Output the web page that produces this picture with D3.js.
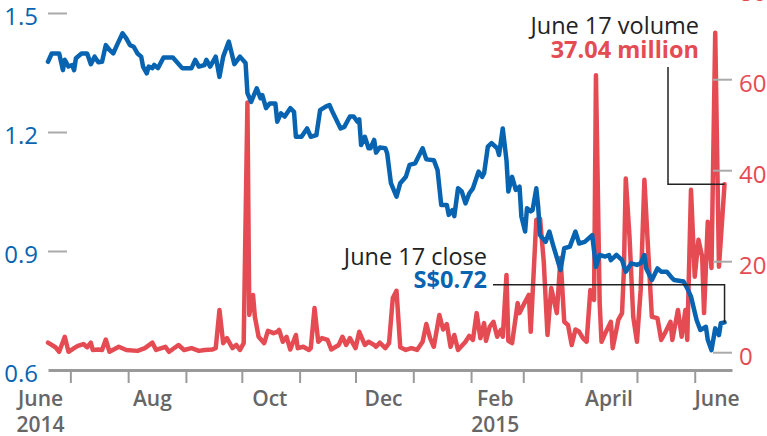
<!DOCTYPE html>
<html><head><meta charset="utf-8">
<script src="https://cdn.jsdelivr.net/npm/d3@7"></script>
<style>
body{margin:0;background:#fff}
svg{display:block;font-family:"Open Sans",sans-serif}
</style>
</head><body>
<svg id="chart" width="767" height="436"></svg>
<script>
// ---- Data ----
const priceDates = ["2014-06-19","2014-06-21","2014-06-25","2014-06-27","2014-06-28","2014-06-30","2014-07-02","2014-07-03","2014-07-04","2014-07-07","2014-07-10","2014-07-12","2014-07-14","2014-07-16","2014-07-18","2014-07-20","2014-07-22","2014-07-24","2014-07-26","2014-07-29","2014-07-31","2014-08-02","2014-08-04","2014-08-06","2014-08-08","2014-08-09","2014-08-11","2014-08-12","2014-08-14","2014-08-15","2014-08-17","2014-08-20","2014-08-25","2014-08-30","2014-09-04","2014-09-06","2014-09-08","2014-09-11","2014-09-12","2014-09-14","2014-09-17","2014-09-19","2014-09-21","2014-09-24","2014-09-26","2014-09-27","2014-09-30","2014-10-03","2014-10-04","2014-10-06","2014-10-09","2014-10-11","2014-10-12","2014-10-14","2014-10-16","2014-10-19","2014-10-20","2014-10-22","2014-10-24","2014-10-27","2014-10-29","2014-10-30","2014-11-02","2014-11-05","2014-11-07","2014-11-10","2014-11-12","2014-11-15","2014-11-17","2014-11-19","2014-11-23","2014-11-25","2014-11-28","2014-11-30","2014-12-02","2014-12-03","2014-12-04","2014-12-06","2014-12-08","2014-12-09","2014-12-11","2014-12-12","2014-12-14","2014-12-17","2014-12-18","2014-12-20","2014-12-23","2014-12-25","2014-12-28","2014-12-30","2015-01-02","2015-01-06","2015-01-08","2015-01-12","2015-01-14","2015-01-16","2015-01-19","2015-01-20","2015-01-22","2015-01-23","2015-01-25","2015-01-27","2015-01-29","2015-01-31","2015-02-02","2015-02-05","2015-02-07","2015-02-08","2015-02-10","2015-02-12","2015-02-15","2015-02-16","2015-02-18","2015-02-20","2015-02-21","2015-02-23","2015-02-25","2015-02-27","2015-02-28","2015-03-02","2015-03-03","2015-03-05","2015-03-06","2015-03-08","2015-03-09","2015-03-10","2015-03-13","2015-03-15","2015-03-17","2015-03-21","2015-03-23","2015-03-26","2015-03-29","2015-03-31","2015-04-03","2015-04-07","2015-04-09","2015-04-11","2015-04-14","2015-04-16","2015-04-17","2015-04-20","2015-04-23","2015-04-25","2015-04-28","2015-05-01","2015-05-03","2015-05-05","2015-05-06","2015-05-09","2015-05-12","2015-05-14","2015-05-17","2015-05-20","2015-05-21","2015-05-26","2015-05-28","2015-05-30","2015-06-02","2015-06-04","2015-06-07","2015-06-08","2015-06-10","2015-06-12","2015-06-14","2015-06-15","2015-06-17"];
const priceValues = [1.377,1.398,1.398,1.356,1.382,1.365,1.369,1.356,1.386,1.398,1.398,1.371,1.390,1.376,1.377,1.419,1.407,1.398,1.419,1.449,1.436,1.419,1.415,1.398,1.390,1.365,1.348,1.365,1.361,1.369,1.361,1.388,1.388,1.361,1.361,1.382,1.365,1.369,1.382,1.365,1.390,1.339,1.390,1.428,1.390,1.371,1.390,1.374,1.298,1.276,1.310,1.285,1.293,1.260,1.272,1.272,1.226,1.247,1.239,1.260,1.251,1.188,1.188,1.209,1.188,1.192,1.255,1.264,1.268,1.247,1.209,1.213,1.239,1.239,1.226,1.232,1.167,1.188,1.159,1.159,1.180,1.148,1.161,1.159,1.146,1.071,1.037,1.071,1.087,1.117,1.121,1.159,1.131,1.129,1.104,1.016,1.016,0.991,1.003,0.988,1.058,1.050,1.020,1.045,1.058,1.100,1.087,1.096,1.163,1.172,1.159,1.142,1.209,1.129,1.050,1.087,1.054,1.062,0.987,0.949,1.008,1.000,1.003,1.058,1.012,0.940,0.923,0.949,0.915,0.852,0.907,0.911,0.949,0.919,0.923,0.940,0.860,0.890,0.886,0.890,0.877,0.890,0.877,0.848,0.869,0.865,0.869,0.890,0.856,0.827,0.856,0.848,0.848,0.831,0.827,0.823,0.806,0.785,0.726,0.701,0.709,0.676,0.650,0.705,0.688,0.718,0.720];

const volumeDates = ["2014-06-19","2014-06-23","2014-06-25","2014-06-28","2014-06-30","2014-07-03","2014-07-05","2014-07-08","2014-07-10","2014-07-12","2014-07-13","2014-07-16","2014-07-18","2014-07-20","2014-07-22","2014-07-27","2014-07-31","2014-08-06","2014-08-10","2014-08-14","2014-08-16","2014-08-21","2014-08-23","2014-08-28","2014-08-31","2014-09-04","2014-09-08","2014-09-11","2014-09-15","2014-09-17","2014-09-19","2014-09-21","2014-09-23","2014-09-26","2014-09-28","2014-09-30","2014-10-02","2014-10-04","2014-10-05","2014-10-07","2014-10-08","2014-10-10","2014-10-13","2014-10-15","2014-10-18","2014-10-20","2014-10-21","2014-10-23","2014-10-25","2014-10-27","2014-10-30","2014-10-31","2014-11-03","2014-11-06","2014-11-07","2014-11-09","2014-11-11","2014-11-13","2014-11-16","2014-11-18","2014-11-22","2014-11-24","2014-11-26","2014-11-28","2014-12-01","2014-12-03","2014-12-06","2014-12-08","2014-12-11","2014-12-12","2014-12-14","2014-12-17","2014-12-19","2014-12-21","2014-12-23","2014-12-25","2014-12-28","2014-12-31","2015-01-03","2015-01-06","2015-01-08","2015-01-10","2015-01-12","2015-01-15","2015-01-17","2015-01-19","2015-01-21","2015-01-23","2015-01-25","2015-01-29","2015-01-31","2015-02-02","2015-02-04","2015-02-06","2015-02-08","2015-02-09","2015-02-11","2015-02-13","2015-02-15","2015-02-17","2015-02-18","2015-02-20","2015-02-21","2015-02-23","2015-02-26","2015-02-27","2015-03-02","2015-03-04","2015-03-05","2015-03-08","2015-03-10","2015-03-12","2015-03-14","2015-03-16","2015-03-19","2015-03-21","2015-03-23","2015-03-25","2015-03-27","2015-03-29","2015-03-31","2015-04-02","2015-04-04","2015-04-06","2015-04-08","2015-04-09","2015-04-11","2015-04-12","2015-04-14","2015-04-17","2015-04-18","2015-04-21","2015-04-23","2015-04-24","2015-04-25","2015-04-27","2015-04-29","2015-05-01","2015-05-03","2015-05-05","2015-05-07","2015-05-09","2015-05-12","2015-05-14","2015-05-16","2015-05-19","2015-05-20","2015-05-23","2015-05-25","2015-05-27","2015-05-28","2015-05-30","2015-06-01","2015-06-03","2015-06-05","2015-06-06","2015-06-08","2015-06-10","2015-06-12","2015-06-14","2015-06-17"];
const volumeValues = [2.2,1.2,0.2,3.5,0.2,1.0,1.5,1.9,1.2,2.2,0.6,0.7,0.6,2.9,0.2,1.3,0.6,0.4,1.0,2.2,0.6,1.3,0.2,1.7,0.6,1.0,0.4,0.6,0.7,1.0,9.4,2.1,3.2,1.0,1.7,0.6,2.1,55.0,8.3,12.7,7.9,3.5,2.1,4.8,4.3,4.6,5.0,2.4,3.5,0.7,3.9,1.0,1.3,0.6,1.0,9.8,2.4,3.2,2.8,0.7,1.7,3.5,1.7,3.2,1.0,4.6,1.7,2.4,1.7,1.3,2.2,1.0,2.1,12.0,13.6,1.2,0.6,1.0,0.6,2.4,6.3,3.2,1.3,8.3,5.1,6.3,1.3,3.9,0.6,2.4,3.7,2.8,8.7,3.2,6.5,2.6,5.7,6.8,3.5,5.0,3.5,17.1,2.6,2.1,10.9,8.7,11.2,12.7,4.6,29.2,29.5,20.0,3.9,14.2,8.7,20.8,6.8,6.1,1.7,5.1,4.6,3.2,2.4,13.8,11.6,61.0,10.9,2.4,4.3,6.8,1.0,7.2,8.7,18.2,38.3,25.5,7.9,2.4,13.8,38.0,22.6,7.9,7.6,2.8,4.3,6.8,2.8,9.4,3.5,9.4,2.8,35.8,16.7,24.8,21.1,8.7,28.8,18.6,70.3,18.9,37.04];

const priceTicks = [0.6, 0.9, 1.2, 1.5];
const priceTickLabels = ["0.6", "0.9", "1.2", "1.5"];
const volumeTicks = [0, 20, 40, 60, 80];
const monthTicks = ["2014-07-01","2014-08-01","2014-09-01","2014-10-01","2014-11-01","2014-12-01","2015-01-01","2015-02-01","2015-03-01","2015-04-01","2015-05-01","2015-06-01"];
const monthLabels = ["June","Aug","Oct","Dec","Feb","April","June"];
const monthLabelDates = ["2014-06-15","2014-08-14","2014-10-16","2014-12-16","2015-02-14","2015-04-16","2015-06-13"];
const yearLabels = ["2014","2015"];
const yearLabelDates = ["2014-06-15","2015-02-14"];

const closeLabel = ["June 17 close", "S$0.72"];
const volumeLabel = ["June 17 volume", "37.04 million"];

// ---- Drawing ----
const parse = d3.timeParse("%Y-%m-%d");
const BLUE = "#0864b1", RED = "#e54b53", GRAY = "#9a9a9a";

const price = priceDates.map((d, i) => ({date: parse(d), value: priceValues[i]}));
const volume = volumeDates.map((d, i) => ({date: parse(d), value: volumeValues[i]}));

const svg = d3.select("#chart");

const x = d3.scaleTime()
  .domain([parse("2014-06-19"), parse("2015-06-21")])
  .range([48, 732]);
const yP = d3.scaleLinear().domain([0.6, 1.5]).range([370, 13]);
const yV = d3.scaleLinear().domain([0, 80]).range([352.7, -11.3]);

// Bottom axis
const xAxis = d3.axisBottom(x)
  .tickValues(monthTicks.map(parse))
  .tickSize(13).tickSizeOuter(0)
  .tickFormat("");
const gx = svg.append("g").attr("transform", "translate(0,370)").call(xAxis);
gx.select(".domain").attr("stroke", GRAY).attr("stroke-width", 3);
gx.selectAll(".tick line").attr("stroke", GRAY).attr("stroke-width", 2);

svg.append("g").selectAll("text.month").data(monthLabels).join("text")
  .attr("x", (d, i) => x(parse(monthLabelDates[i])))
  .attr("y", 406)
  .attr("text-anchor", "middle")
  .attr("font-size", 21).attr("font-weight", 600).attr("fill", "#666")
  .text(d => d);
svg.append("g").selectAll("text.year").data(yearLabels).join("text")
  .attr("x", (d, i) => x(parse(yearLabelDates[i])))
  .attr("y", 432)
  .attr("text-anchor", "middle")
  .attr("font-size", 21).attr("font-weight", 600).attr("fill", "#666")
  .text(d => d);

// Left axis (price)
const yAxisL = d3.axisLeft(yP)
  .tickValues(priceTicks.slice(1))
  .tickSize(0).tickFormat("");
const gl = svg.append("g").call(yAxisL);
gl.select(".domain").remove();
gl.selectAll(".tick").append("line")
  .attr("x1", 48).attr("x2", 67)
  .attr("stroke", "#aaa").attr("stroke-width", 2);
svg.append("g").selectAll("text").data(priceTicks).join("text")
  .attr("x", 38).attr("y", d => yP(d) + 12)
  .attr("text-anchor", "end")
  .attr("font-size", 24).attr("fill", BLUE)
  .text((d, i) => priceTickLabels[i]);

// Volume line
const lineV = d3.line().x(d => x(d.date)).y(d => yV(d.value));
svg.append("path").datum(volume)
  .attr("d", lineV)
  .attr("fill", "none").attr("stroke", RED)
  .attr("stroke-width", 4.5).attr("stroke-linejoin", "round").attr("stroke-linecap", "round");

// Price line
const lineP = d3.line().x(d => x(d.date)).y(d => yP(d.value));
svg.append("path").datum(price)
  .attr("d", lineP)
  .attr("fill", "none").attr("stroke", BLUE)
  .attr("stroke-width", 4.5).attr("stroke-linejoin", "round").attr("stroke-linecap", "round");

// Right axis (volume) ticks drawn over lines
svg.append("g").selectAll("line").data(volumeTicks).join("line")
  .attr("x1", 713).attr("x2", 732)
  .attr("y1", d => yV(d)).attr("y2", d => yV(d))
  .attr("stroke", "#aaa").attr("stroke-width", 2);
svg.append("g").selectAll("text").data(volumeTicks).join("text")
  .attr("x", 739).attr("y", d => yV(d) + 12)
  .attr("font-size", 24).attr("fill", RED)
  .text(d => d);

// Annotations
const last = price[price.length - 1];
const lastV = volume[volume.length - 1];
svg.append("path")
  .attr("d", `M493,${yP(0.72) - 37.7}H${x(last.date)}V${yP(last.value)}`)
  .attr("fill", "none").attr("stroke", "#222").attr("stroke-width", 1.5);
svg.append("path")
  .attr("d", `M668,67V${yV(lastV.value)}H${x(lastV.date)}`)
  .attr("fill", "none").attr("stroke", "#222").attr("stroke-width", 1.5);

svg.append("text").attr("x", 487).attr("y", 265).attr("text-anchor", "end")
  .attr("font-size", 23.5).attr("fill", "#222").text(closeLabel[0]);
svg.append("text").attr("x", 487).attr("y", 288).attr("text-anchor", "end")
  .attr("font-size", 23.5).attr("font-weight", 700).attr("fill", BLUE).text(closeLabel[1]);
svg.append("text").attr("x", 699).attr("y", 34).attr("text-anchor", "end")
  .attr("font-size", 23.5).attr("fill", "#222").text(volumeLabel[0]);
svg.append("text").attr("x", 699).attr("y", 58).attr("text-anchor", "end")
  .attr("font-size", 23.5).attr("font-weight", 700).attr("fill", RED).text(volumeLabel[1]);
</script>
</body></html>
